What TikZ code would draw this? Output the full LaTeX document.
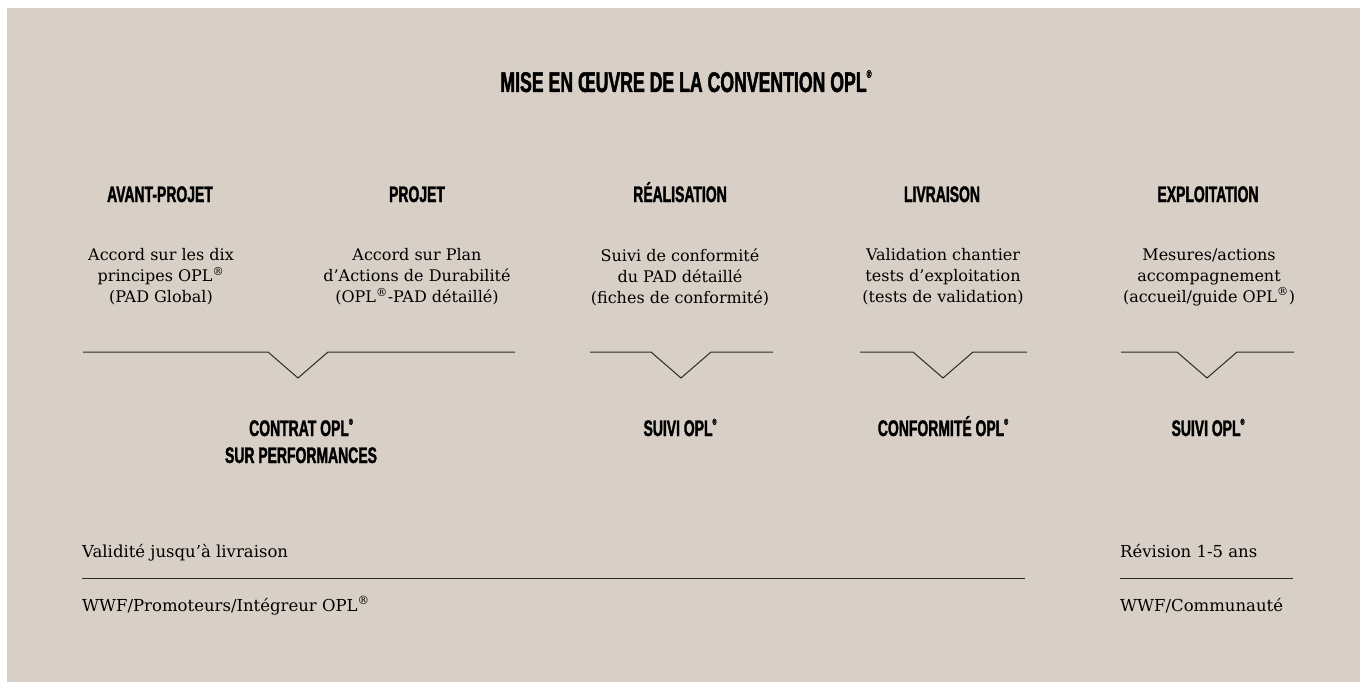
\documentclass[tikz,border=0pt]{standalone}
\usepackage{fontspec}
\setmainfont{DejaVu Serif}
\newfontfamily\headfont{Liberation Sans}[UprightFont={* Bold}, FakeStretch=0.62, FakeBold=1.5]

\definecolor{sable}{RGB}{216,208,199}
\definecolor{filet}{RGB}{45,42,40}

\newcommand{\rmark}{\textsuperscript{®}}
\newcommand{\hmark}{\raisebox{0.5em}{\scalebox{0.38}{®}}}

\tikzset{
    titre/.style={font=\headfont\fontsize{28.5}{30}\selectfont, inner sep=0pt},
    phase/.style={font=\headfont\fontsize{22.5}{27}\selectfont, align=center, inner sep=0pt},
    texte/.style={font=\fontsize{16}{21}\selectfont, align=center, inner sep=0pt},
    note/.style={font=\fontsize{16.5}{21}\selectfont, anchor=base west, inner sep=0pt},
    trait/.style={draw=filet, line width=1pt},
}

\begin{document}
\begin{tikzpicture}[x=1pt,y=-1pt]
        \useasboundingbox (0,0) rectangle (1367,690);
        \fill[sable] (7,8) rectangle (1360,682);

        % Titre
        \node[titre, anchor=base] (titre) at (686,92) {MISE EN ŒUVRE DE LA CONVENTION OPL\hmark};

        % Phases
        \node[phase, anchor=base] (avant) at (160,202) {AVANT-PROJET};
        \node[phase, anchor=base] (projet) at (417,202) {PROJET};
        \node[phase, anchor=base] (real) at (680,202) {RÉALISATION};
        \node[phase, anchor=base] (livr) at (942,202) {LIVRAISON};
        \node[phase, anchor=base] (expl) at (1208,202) {EXPLOITATION};

        % Contenus
        \node[texte] (avant-txt) at (161,277) {Accord sur les dix\\principes OPL\rmark\\(PAD Global)};
        \node[texte] (projet-txt) at (417,277) {Accord sur Plan\\d’Actions de Durabilité\\(OPL\rmark-PAD détaillé)};
        \node[texte] (real-txt) at (680,277) {Suivi de conformité\\du PAD détaillé\\(fiches de conformité)};
        \node[texte] (livr-txt) at (943,277) {Validation chantier\\tests d’exploitation\\(tests de validation)};
        \node[texte] (expl-txt) at (1209,277) {Mesures/actions\\accompagnement\\(accueil/guide OPL\rmark)};

        % Accolades en V
        \foreach \g/\m/\d in {83/298/515, 590/681/773, 860/943/1027, 1121/1207/1294}
            \draw[trait] (\g,352) -- (\m-30,352) -- (\m,378) -- (\m+30,352) -- (\d,352);

        % Resultats
        \node[phase] (contrat) at (301,441) {CONTRAT OPL\hmark\\SUR PERFORMANCES};
        \node[phase, anchor=base] (suivi1) at (680,436) {SUIVI OPL\hmark};
        \node[phase, anchor=base] (conf) at (943,436) {CONFORMITÉ OPL\hmark};
        \node[phase, anchor=base] (suivi2) at (1208,436) {SUIVI OPL\hmark};

        % Validite et acteurs
        \node[note] (valid) at (82,557) {Validité jusqu’à livraison};
        \node[note] (acteurs) at (82,611) {WWF/Promoteurs/Intégreur OPL\rmark};
        \node[note] (revision) at (1120,557) {Révision 1-5 ans};
        \node[note] (communaute) at (1120,611) {WWF/Communauté};
        \draw[trait] (82,578) -- (1025,578);
        \draw[trait] (1120,578) -- (1293,578);
\end{tikzpicture}
\end{document}
